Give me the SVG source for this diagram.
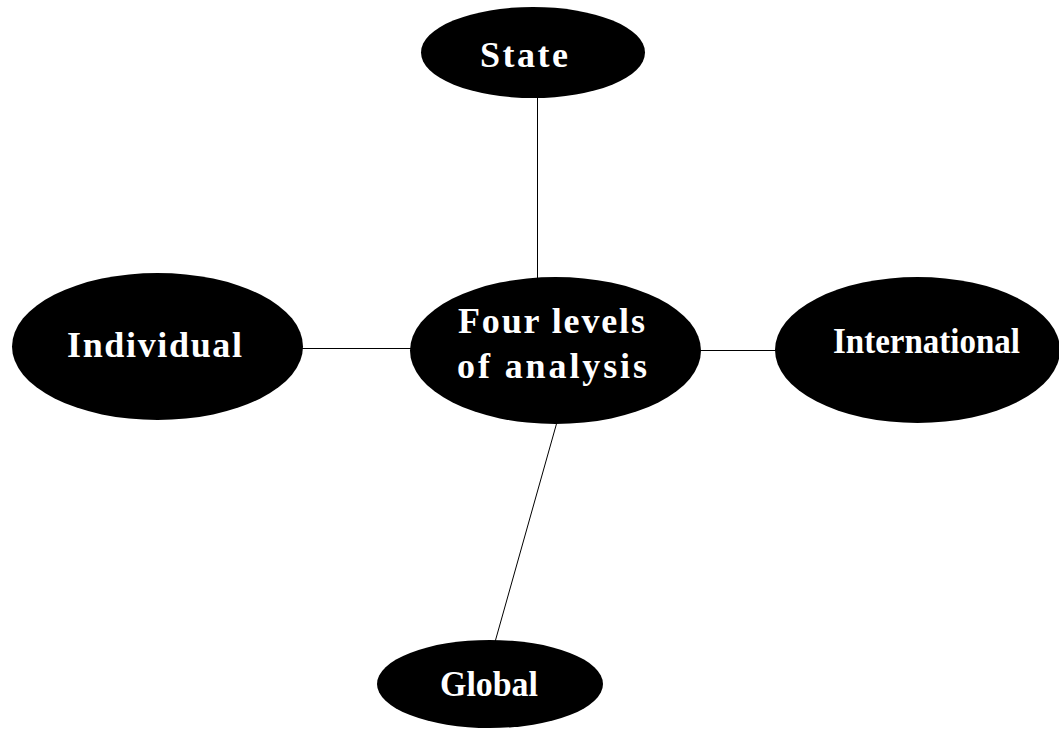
<svg xmlns="http://www.w3.org/2000/svg" width="1059" height="729" viewBox="0 0 1059 729">
  <style>
    .node { fill: #000; }
    .label { fill: #fff; font-family: "Liberation Serif", "Times New Roman", serif; font-weight: bold; font-size: 36px; }
    .link { stroke: #000; stroke-width: 1; fill: none; }
  </style>
  <rect width="1059" height="729" fill="#fff"/>
  <g id="connectors">
    <line class="link" x1="537.5" y1="98" x2="537.5" y2="280"/>
    <line class="link" x1="302" y1="348.5" x2="411" y2="348.5"/>
    <line class="link" x1="700" y1="350.5" x2="776" y2="350.5"/>
    <line class="link" x1="557" y1="422" x2="495" y2="642"/>
  </g>
  <g id="state">
    <ellipse class="node" cx="533" cy="52.5" rx="112" ry="45.5"/>
    <text class="label" x="480" y="67" textLength="88" lengthAdjust="spacing">State</text>
  </g>
  <g id="individual">
    <ellipse class="node" cx="157.5" cy="346.5" rx="145.5" ry="73.5"/>
    <text class="label" x="67" y="357" textLength="175" lengthAdjust="spacing">Individual</text>
  </g>
  <g id="center">
    <ellipse class="node" cx="555.5" cy="350.5" rx="145.5" ry="73.5"/>
    <text class="label" x="458" y="333" textLength="187" lengthAdjust="spacing">Four levels</text>
    <text class="label" x="457" y="378" textLength="190" lengthAdjust="spacing">of analysis</text>
  </g>
  <g id="international">
    <ellipse class="node" cx="917.5" cy="350" rx="142.5" ry="73"/>
    <text class="label" x="833" y="353" textLength="187" lengthAdjust="spacingAndGlyphs">International</text>
  </g>
  <g id="global">
    <ellipse class="node" cx="490" cy="684" rx="113" ry="44"/>
    <text class="label" x="440" y="696" textLength="98" lengthAdjust="spacingAndGlyphs">Global</text>
  </g>
</svg>
